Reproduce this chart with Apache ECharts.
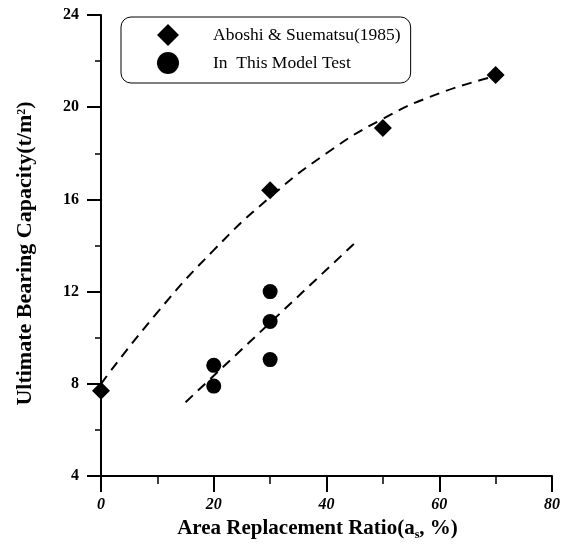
<!DOCTYPE html>
<html><head><meta charset="utf-8">
<script src="https://cdn.jsdelivr.net/npm/echarts@6/dist/echarts.min.js"></script>
<style>html,body{margin:0;padding:0;background:#fff}#c{width:569px;height:545px}</style>
</head><body><div id="c"></div>
<script>
var aboshiX = [0, 30, 50, 70];
var aboshiY = [7.7, 16.4, 19.1, 21.4];
var modelX = [20, 20, 30, 30, 30];
var modelY = [8.8, 7.9, 12.0, 10.7, 9.05];
var curveX = [0, 10, 20, 30, 40, 50, 60, 70];
var curveY = [8.0, 11.1, 13.8, 16.1, 18.0, 19.5, 20.6, 21.35];
var fitX = [15, 45];
var fitY = [7.2, 14.1];
var xTicks = [0, 20, 40, 60, 80];
var yTicks = [4, 8, 12, 16, 20, 24];

function pairs(xs, ys){ return xs.map(function(x,i){ return [x, ys[i]]; }); }
var serif = 'Liberation Serif';
var chart = echarts.init(document.getElementById('c'), null, {renderer:'canvas'});
chart.setOption({
  animation:false,
  backgroundColor:'#fff',
  grid:{left:101, right:17, top:15, bottom:69, outerBoundsMode:'none', containLabel:false},
  legend:{
    left:121, top:17, orient:'vertical',
    padding:[7,10,9,36],
    itemWidth:22, itemHeight:22, itemGap:6,
    borderColor:'#000', borderWidth:1, borderRadius:10,
    textStyle:{fontFamily:serif, fontSize:17.5, color:'#000', padding:[0,0,0,29]},
    data:[{name:'Aboshi & Suematsu(1985)', icon:'diamond'},{name:'In  This Model Test', icon:'circle'}]
  },
  xAxis:{
    type:'value', min:xTicks[0], max:xTicks[xTicks.length-1], interval:20,
    name:'{a|Area Replacement Ratio(a}{s|s}{e|, %)}',
    nameLocation:'middle', nameGap:39,
    nameTextStyle:{rich:{
      a:{fontFamily:serif, fontWeight:'bold', fontSize:21, color:'#000', lineHeight:24, verticalAlign:'bottom'},
      e:{fontFamily:serif, fontWeight:'bold', fontSize:21, color:'#000', lineHeight:24, verticalAlign:'bottom', padding:[0,18,0,0]},
      s:{fontFamily:serif, fontWeight:'bold', fontSize:12, color:'#000', lineHeight:24, verticalAlign:'bottom', padding:[0,0,-2,0]}
    }},
    axisLine:{show:true, onZero:false, lineStyle:{color:'#000', width:2}},
    axisTick:{show:true, length:16, lineStyle:{color:'#000', width:2}},
    minorTick:{show:true, splitNumber:2, length:8, lineStyle:{color:'#000', width:1.5}},
    axisLabel:{margin:21, fontFamily:serif, fontWeight:'bold', fontStyle:'italic', fontSize:16, color:'#000'},
    splitLine:{show:false}
  },
  yAxis:{
    type:'value', min:yTicks[0], max:yTicks[yTicks.length-1], interval:4,
    name:'{a|Ultimate Bearing Capacity(t/m}{p|2}{e|)}',
    nameLocation:'middle', nameGap:63, nameRotate:90,
    nameTextStyle:{rich:{
      a:{fontFamily:serif, fontWeight:'bold', fontSize:22, color:'#000', lineHeight:24, verticalAlign:'top'},
      e:{fontFamily:serif, fontWeight:'bold', fontSize:22, color:'#000', lineHeight:24, verticalAlign:'top', padding:[0,16,0,0]},
      p:{fontFamily:serif, fontWeight:'bold', fontSize:12, color:'#000', lineHeight:24, verticalAlign:'top', padding:[2,0,0,0]}
    }},
    axisLine:{show:true, onZero:false, lineStyle:{color:'#000', width:2}},
    axisTick:{show:true, length:14, lineStyle:{color:'#000', width:2}},
    minorTick:{show:true, splitNumber:2, length:6, lineStyle:{color:'#000', width:1.5}},
    axisLabel:{margin:22, fontFamily:serif, fontWeight:'bold', fontSize:16, color:'#000'},
    splitLine:{show:false}
  },
  series:[
    {type:'line', data:pairs(curveX, curveY), smooth:true, symbol:'none', silent:true,
     lineStyle:{color:'#000', width:2, type:[10,7]}, z:1},
    {type:'line', data:pairs(fitX, fitY), symbol:'none', silent:true,
     lineStyle:{color:'#000', width:2, type:[10,7]}, z:1},
    {name:'Aboshi & Suematsu(1985)', type:'scatter', symbol:'diamond', symbolSize:18,
     data:pairs(aboshiX, aboshiY), itemStyle:{color:'#000', opacity:1}, z:3},
    {name:'In  This Model Test', type:'scatter', symbol:'circle', symbolSize:15,
     data:pairs(modelX, modelY), itemStyle:{color:'#000', opacity:1}, z:3}
  ]
});
</script></body></html>
